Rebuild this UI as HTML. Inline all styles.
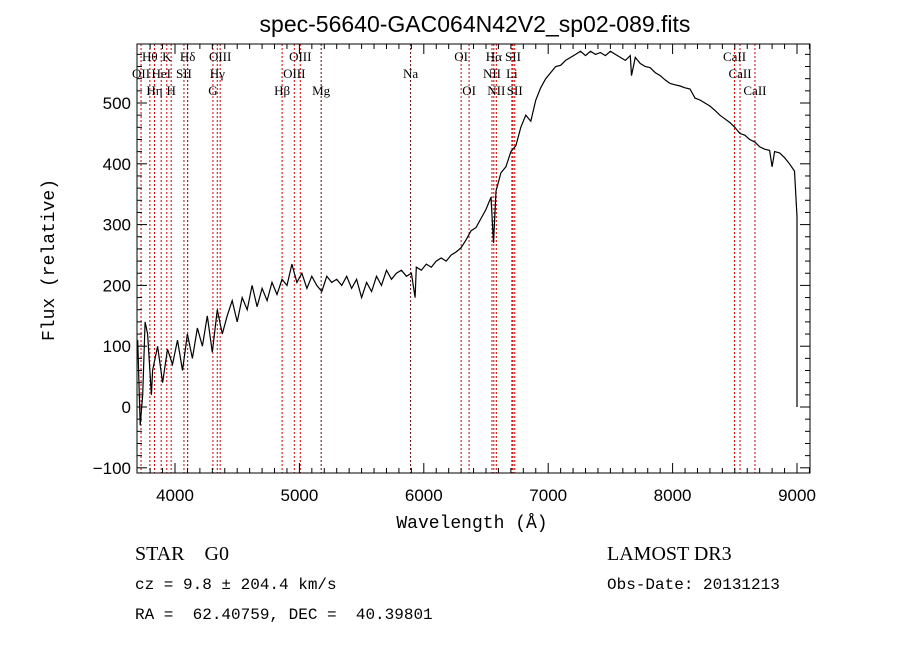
<!DOCTYPE html>
<html><head><meta charset="utf-8"><style>
body{margin:0;background:#fff;}
svg{display:block;}
text{white-space:pre;}
</style></head><body>
<svg id="chart" width="900" height="649" xmlns="http://www.w3.org/2000/svg" font-family="Liberation Sans, sans-serif">
<rect width="900" height="649" fill="#fff"/>
<text x="475" y="32" font-size="23" text-anchor="middle" font-family="Liberation Sans, sans-serif">spec-56640-GAC064N42V2_sp02-089.fits</text>
<g id="lines"></g>
<g id="labels" font-family="Liberation Serif, serif" font-size="13"></g>
<g id="axes"></g>
<path id="spec" fill="none" stroke="#000" stroke-width="1.2"/>
<text x="472" y="528" font-size="18" text-anchor="middle" font-family="Liberation Mono, monospace">Wavelength (Å)</text>
<text transform="translate(54,260) rotate(-90)" font-size="18" text-anchor="middle" font-family="Liberation Mono, monospace">Flux (relative)</text>
<text x="135" y="560" font-size="20" font-family="Liberation Serif, serif">STAR&#160;&#160;&#160;&#160;G0</text>
<text x="135" y="589" font-size="16" font-family="Liberation Mono, monospace">cz = 9.8 ± 204.4 km/s</text>
<text x="135" y="619" font-size="16" font-family="Liberation Mono, monospace">RA =&#160;&#160;62.40759, DEC =&#160;&#160;40.39801</text>
<text x="607" y="560" font-size="20" font-family="Liberation Serif, serif">LAMOST DR3</text>
<text x="607" y="589" font-size="16" font-family="Liberation Mono, monospace">Obs-Date: 20131213</text>
</svg>
<script>
const waveStart = 3700, waveStep = 40;
const flux = [110,20,120,60,100,40,95,70,110,60,120,80,130,100,150,90,160,120,150,175,
140,180,160,200,165,195,175,205,185,210,200,235,205,220,195,215,200,190,215,205,
210,200,215,195,210,180,205,190,215,200,225,210,220,225,215,220,230,225,235,230,
240,245,240,250,255,262,275,290,295,310,325,345,355,385,395,420,430,460,480,470,
505,525,540,550,560,562,570,575,580,585,578,585,580,583,578,585,580,575,570,578,
575,565,560,558,550,545,538,532,530,528,525,523,508,505,500,495,488,480,474,468,
460,450,447,440,436,428,424,422,420,418,410,400,388];
const minorFlux = [[3720,-30],[3760,140],[3810,20],[5930,180],[6560,270],[7670,545],[8800,395],[9000,313]];
const lineWaves = [3727,3798,3835,3889,3934,3969,4072,4102,4305,4340,4363,4861,4959,5007,5175,5894,6300,6364,6548,6563,6583,6708,6717,6731,8498,8542,8662];
const labelText = ["OII","Hθ","Hη","HeI","K","H","SII","Hδ","G","Hγ","OIII","Hβ","OIII","OIII","Mg","Na","OI","OI","NII","Hα","NII","Li","SII","SII","CaII","CaII","CaII"];
const labelRow = [1,0,2,1,0,2,1,0,2,1,0,2,1,0,2,1,0,2,1,0,2,1,0,2,0,1,2];
const xTicks = [4000,5000,6000,7000,8000,9000];
const yTicks = [-100,0,100,200,300,400,500];

const L=137,R=810,T=44,B=473;
const X=w=>175+(w-4000)*0.1244;
const Y=f=>407-f*0.608;
const NS="http://www.w3.org/2000/svg";
function mk(t,a,p){const e=document.createElementNS(NS,t);for(const k in a)e.setAttribute(k,a[k]);p.appendChild(e);return e;}
const lines=document.getElementById('lines'),labels=document.getElementById('labels'),axes=document.getElementById('axes');
lineWaves.forEach((w,i)=>{
 const l=mk('line',{x1:X(w),x2:X(w),y1:T,y2:B,stroke:(w==5894||w==4102||w==5175)?'#600':'#c00','stroke-width':1,'stroke-dasharray':'2,2'},lines);
 
 
 const t=mk('text',{x:X(w),y:61+labelRow[i]*17,'text-anchor':'middle'},labels);
 t.textContent=labelText[i];
 
 
});
const pts=flux.map((f,i)=>[waveStart+i*waveStep,f]).concat(minorFlux).sort((a,b)=>a[0]-b[0]);
let d=pts.map((p,i)=>(i?'L':'M')+X(p[0]).toFixed(1)+' '+Y(p[1]).toFixed(1)).join(' ');
d+=' L'+X(9000).toFixed(1)+' '+Y(0);
document.getElementById('spec').setAttribute('d',d);
const frame=mk('rect',{x:L,y:T,width:R-L,height:B-T,fill:'none',stroke:'#000','stroke-width':1},axes);


for(let w=3800;w<=9100;w+=100){const big=w%1000==0;mk('line',{x1:X(w),x2:X(w),y1:B,y2:B-(big?10:5),stroke:'#000'},axes);mk('line',{x1:X(w),x2:X(w),y1:T,y2:T+(big?10:5),stroke:'#000'},axes);}
for(let f=-100;f<=590;f+=20){const big=f%100==0;mk('line',{x1:L,x2:L+(big?10:5),y1:Y(f),y2:Y(f),stroke:'#000'},axes);mk('line',{x1:R,x2:R-(big?10:5),y1:Y(f),y2:Y(f),stroke:'#000'},axes);}
xTicks.forEach(w=>{const t=mk('text',{x:X(w),y:501,'font-size':17,'text-anchor':'middle'},axes);t.textContent=w;});
yTicks.forEach(f=>{const t=mk('text',{x:L-6,y:Y(f)+6,'font-size':17,'text-anchor':'end'},axes);t.textContent=f<0?'−100':f;});
</script>
</body></html>
